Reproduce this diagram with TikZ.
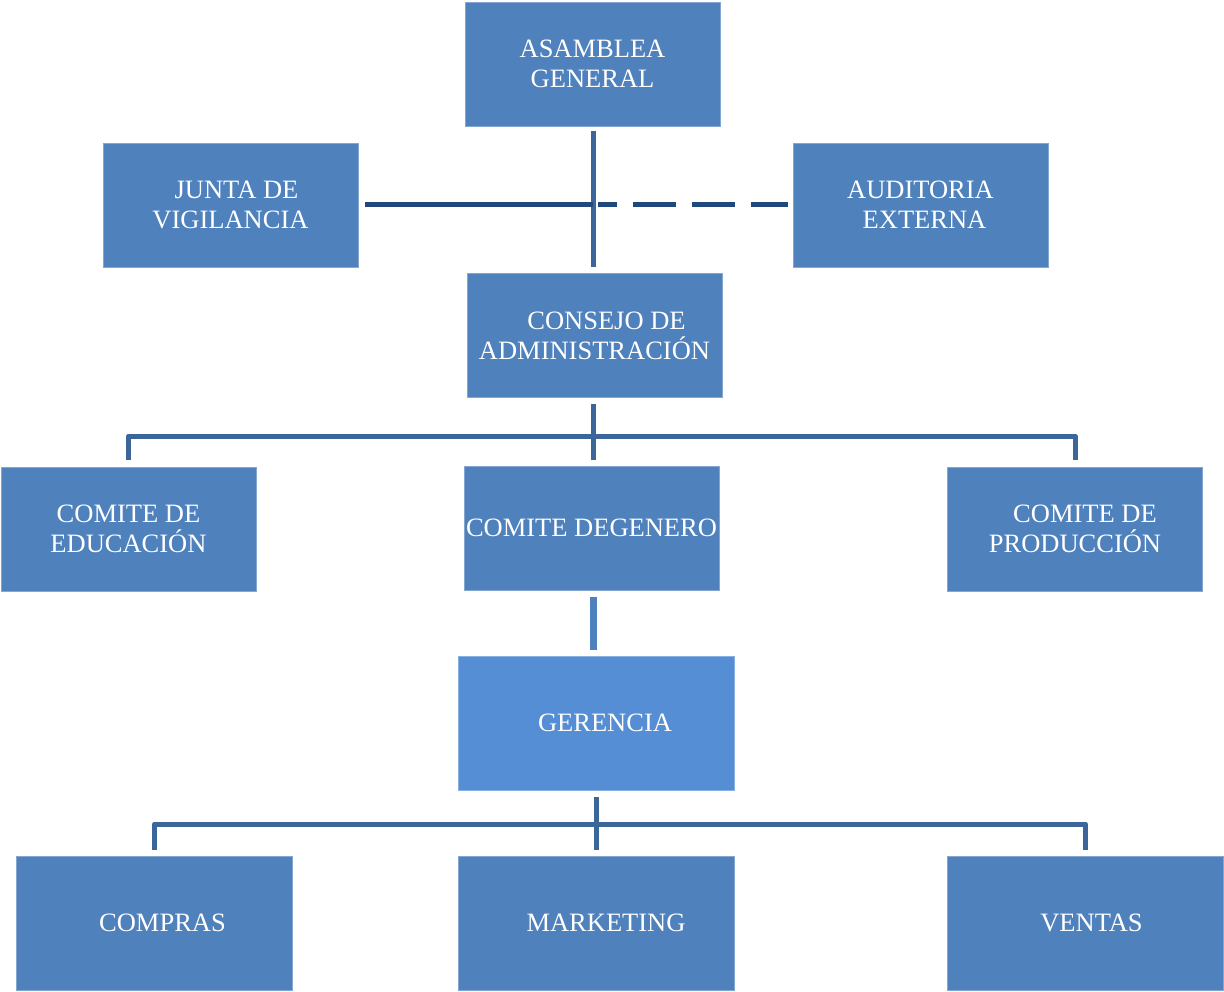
\documentclass[tikz,border=0pt]{standalone}
\usepackage{fontspec}
\setmainfont{Liberation Serif}
\usetikzlibrary{positioning}

\definecolor{cajaazul}{HTML}{4F81BD}
\definecolor{gerazul}{HTML}{558ED5}
\definecolor{lineaazul}{HTML}{3A6699}
\definecolor{lineaosc}{HTML}{1F497D}

\tikzset{
  caja/.style={rectangle, fill=cajaazul, draw=cajaazul!70!white, line width=0.8pt,
    minimum width=255pt, minimum height=124pt, inner sep=0pt, align=center,
    text=white, font=\fontsize{26.5}{30}\selectfont},
  cajagrande/.style={caja, minimum width=276pt, minimum height=134pt},
  rama/.style={draw=lineaazul, line width=5pt, line join=round},
  enlace/.style={draw=lineaosc, line width=5pt}
}

\begin{document}
\begin{tikzpicture}[x=1pt, y=-1pt]  % Begins the picture, one unit per pixel
    \useasboundingbox (0,0) rectangle (1224,992);

    % Nodes
    \node[caja] (asamblea) at (592.5,64) {ASAMBLEA\\GENERAL};  % top of the chart
    \node[caja] (junta) at (230.5,205) {\hspace*{12pt}JUNTA DE\\VIGILANCIA};  % left side
    \node[caja] (auditoria) at (920.5,205) {AUDITORIA\\\hspace*{8pt}EXTERNA};  % right side
    \node[caja] (consejo) at (594.5,335.5) {\hspace*{24pt}CONSEJO DE\\ADMINISTRACIÓN};
    \node[caja] (educacion) at (128.5,529) {COMITE DE\\EDUCACIÓN};
    \node[caja] (genero) at (591.5,528) {COMITE DEGENERO};
    \node[caja] (produccion) at (1075,529) {\hspace*{20pt}COMITE DE\\PRODUCCIÓN};
    \node[cajagrande, fill=gerazul, draw=gerazul!70!white] (gerencia) at (596,723) {\hspace*{18pt}GERENCIA};
    \node[cajagrande] (compras) at (154.5,923) {\hspace*{16pt}COMPRAS};
    \node[cajagrande] (marketing) at (596,923) {\hspace*{20pt}MARKETING};
    \node[cajagrande] (ventas) at (1085.5,923) {\hspace*{12pt}VENTAS};

    % Connections
    \draw[rama, shorten <=5pt, shorten >=6pt] ([xshift=0.5pt]asamblea.south) -- ([xshift=0.5pt]asamblea.south |- consejo.north);  % main line
    \draw[enlace, shorten <=7pt] (junta.east) -- (junta.east -| asamblea.south);  % solid link
    \draw[enlace, shorten <=5pt, shorten >=5pt, dash pattern=on 43pt off 16pt, dash phase=6pt]
        (auditoria.west) -- (auditoria.west -| asamblea.south);  % dashed link

    \coordinate (barra1) at (593,436);  % bar under the council
    \draw[rama] ([yshift=-6pt]consejo.south -| barra1) -- ([yshift=6pt]genero.north -| barra1);
    \draw[rama] ([yshift=7pt]educacion.north) |- (barra1) -| ([yshift=7pt]produccion.north);

    \draw[draw=cajaazul, line width=7pt, shorten <=7pt, shorten >=6pt] ([xshift=1.5pt]genero.south) -- ([xshift=1.5pt]genero.south |- gerencia.north);

    \coordinate (barra2) at (596,824);  % bar under the management
    \draw[rama] ([yshift=-7pt]gerencia.south) -- ([yshift=6pt]marketing.north);
    \draw[rama] ([yshift=6pt]compras.north) |- (barra2) -| ([yshift=6pt]ventas.north);
\end{tikzpicture}
\end{document}
